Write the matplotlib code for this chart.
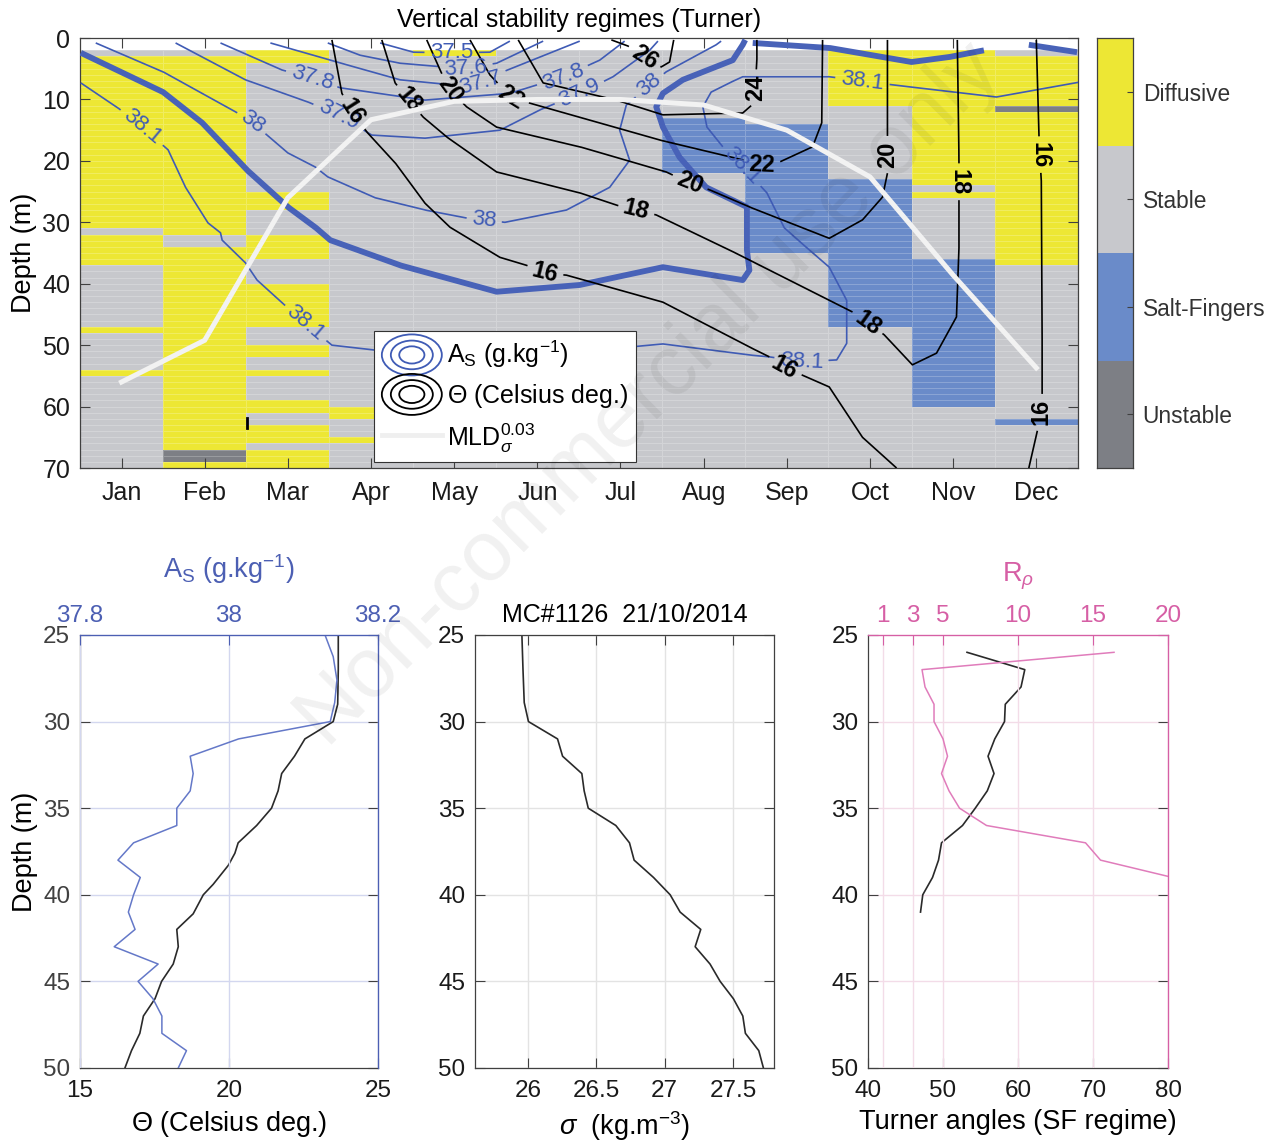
import numpy as np
import matplotlib
matplotlib.use('Agg')
import matplotlib.pyplot as plt
from matplotlib.colors import ListedColormap
from matplotlib.font_manager import FontProperties
from matplotlib.legend_handler import HandlerBase
from matplotlib.patches import Ellipse
from matplotlib.lines import Line2D

plt.rcParams['font.family'] = ['Liberation Sans', 'DejaVu Sans']
plt.rcParams['mathtext.fontset'] = 'custom'
plt.rcParams['mathtext.rm'] = 'Liberation Sans'
plt.rcParams['mathtext.it'] = 'Liberation Sans:italic'
plt.rcParams['mathtext.bf'] = 'Liberation Sans:bold'

# ---------------------------------------------------------------- data
MONTHS = ['Jan', 'Feb', 'Mar', 'Apr', 'May', 'Jun', 'Jul', 'Aug', 'Sep', 'Oct', 'Nov', 'Dec']
REGIME_NAMES = ['Diffusive', 'Stable', 'Salt-Fingers', 'Unstable']
# regime columns: (top depth of layer, regime) ; D=Diffusive S=Stable F=Salt-fingers U=Unstable
REG_JAN = [(2, 'S'), (3, 'D'), (31, 'S'), (32, 'D'), (37, 'S'), (47, 'D'), (48, 'S'), (54, 'D'), (55, 'S')]
REG_FEB = [(2, 'S'), (3, 'D'), (32, 'S'), (34, 'D'), (67, 'U'), (69, 'D')]
REG_MAR = [(2, 'D'), (4, 'S'), (25, 'D'), (28, 'S'), (32, 'D'), (36, 'S'), (40, 'D'), (47, 'S'), (50, 'D'),
           (52, 'S'), (54, 'D'), (55, 'S'), (59, 'D'), (61, 'S'), (63, 'D'), (66, 'S'), (67, 'D')]
REG_APR = [(2, 'S'), (60, 'D'), (62, 'S'), (65, 'D'), (66, 'S')]
REG_MAY = [(2, 'D'), (3, 'S')]
REG_JUN = [(2, 'S')]
REG_JUL = [(2, 'S')]
REG_AUG = [(2, 'S'), (13, 'F'), (22, 'S')]
REG_SEP = [(2, 'S'), (14, 'F'), (35, 'S')]
REG_OCT = [(2, 'D'), (11, 'S'), (23, 'F'), (47, 'S')]
REG_NOV = [(2, 'D'), (24, 'S'), (25, 'D'), (26, 'S'), (36, 'F'), (60, 'S')]
REG_DEC = [(2, 'S'), (3, 'D'), (11, 'U'), (12, 'D'), (37, 'S'), (62, 'F'), (63, 'S')]

# isohalines (A_S, g/kg): month, depth
THICK_M = [0.51, 1.50, 1.97, 2.51, 3.00, 3.33, 3.51, 4.35, 5.51, 6.51, 7.51, 8.47, 8.55, 8.52, 8.52, 8.03, 7.71, 7.51, 7.43, 7.51, 7.75, 8.35, 8.47, 8.50]
THICK_D = [2.4, 8.8, 13.8, 21.5, 27.5, 30.8, 32.9, 37.0, 41.3, 40.2, 37.3, 39.4, 37.8, 34.5, 27.5, 24.3, 19.4, 14.5, 11.2, 9.0, 6.8, 3.6, 1.1, 0.3]
THICK2_M = [8.59, 9.51, 10.50, 10.95, 11.37]
THICK2_D = [0.8, 1.6, 3.9, 3.1, 2.0]
THICK3_M = [11.91, 12.49]
THICK3_D = [1.1, 2.3]

S381_M = [0.51, 0.96, 1.25, 1.56, 1.77, 2.04, 2.19, 2.21, 2.49, 2.63, 2.93, 3.21, 3.53, 4.05, 5.55, 7.11, 7.51, 8.55, 8.79, 9.18, 9.60, 9.72, 9.72, 9.51, 9.27, 8.97, 8.76, 8.46, 8.23, 8.04, 7.99, 8.09, 8.31, 8.47, 9.51, 9.91, 10.32, 11.52, 12.51]
S381_D = [7.3, 11.4, 14.5, 18.2, 24.3, 30.1, 31.7, 32.9, 36.6, 39.4, 43.1, 46.4, 50.0, 50.8, 50.8, 50.3, 49.8, 51.6, 51.9, 52.7, 52.4, 49.7, 42.7, 37.3, 34.5, 30.9, 25.2, 20.8, 17.7, 14.5, 11.2, 8.8, 7.3, 6.3, 6.3, 7.0, 7.7, 9.6, 7.2]
S381_LAB = [(1.25, 14.5), (3.21, 46.4), (9.18, 52.7), (8.46, 20.8), (9.91, 7.0)]
S38_M = [0.69, 1.50, 2.37, 2.57, 2.75, 3.00, 3.33, 3.48, 4.05, 4.65, 5.15, 5.36, 5.61, 6.35, 6.87, 7.11, 6.99, 7.07, 7.35, 7.55, 8.15, 8.21]
S38_D = [0.8, 5.5, 12.0, 13.7, 15.8, 18.7, 21.0, 22.6, 26.0, 28.0, 29.3, 29.6, 30.0, 28.0, 24.3, 19.9, 15.0, 10.9, 7.7, 5.5, 1.1, 0.5]
S38_LAB = [(2.57, 13.7), (5.36, 29.6), (7.35, 7.7)]
S379_M = [1.65, 2.49, 3.24, 3.61, 4.01, 4.65, 5.55, 6.03, 6.51, 6.91, 7.35, 7.45]
S379_D = [0.8, 6.8, 10.4, 12.5, 15.8, 16.3, 15.0, 11.7, 9.0, 6.3, 2.0, 0.5]
S379_LAB = [(3.61, 12.5), (6.51, 9.0)]
S378_M = [2.19, 2.93, 3.29, 3.63, 4.65, 5.67, 6.31, 6.75, 7.05]
S378_D = [0.8, 5.2, 6.5, 8.1, 10.1, 9.0, 6.3, 3.6, 0.5]
S378_LAB = [(3.29, 6.5), (6.31, 6.3)]
S377_M = [2.79, 3.51, 4.35, 5.03, 5.32, 5.55, 6.51]
S377_D = [0.8, 3.6, 6.8, 7.7, 7.3, 5.7, 0.5]
S377_LAB = [(5.32, 7.3)]
S376_M = [3.48, 3.87, 4.35, 4.87, 5.14, 5.51, 6.07]
S376_D = [0.8, 2.8, 4.1, 4.7, 4.9, 4.1, 0.5]
S376_LAB = [(5.14, 4.9)]
S375_M = [4.11, 4.51, 4.97, 5.43, 5.67]
S375_D = [0.8, 2.3, 2.4, 2.3, 0.5]
S375_LAB = [(4.97, 2.4)]

# isotherms (Theta, deg C): month, depth
T16A_M = [3.53, 3.65, 3.77, 3.95, 4.29, 4.65, 4.95, 5.55, 5.87, 6.09, 6.35, 7.51, 8.55, 8.79, 8.97, 9.19, 9.51, 9.91, 10.32]
T16A_D = [0.3, 9.0, 12.0, 15.3, 20.3, 26.9, 30.8, 35.7, 37.0, 38.3, 38.6, 43.0, 50.3, 51.9, 53.6, 54.9, 56.8, 65.0, 70.0]
T16A_LAB = [(3.77, 12.0), (6.09, 38.3), (8.97, 53.6)]
T18_M = [4.13, 4.29, 4.45, 4.63, 4.91, 5.51, 6.51, 6.95, 7.19, 7.43, 8.31, 9.79, 9.97, 10.17, 10.51, 10.80, 11.04, 11.07, 11.07, 11.07, 11.07, 11.05]
T18_D = [0.3, 7.3, 10.1, 12.9, 16.1, 21.8, 25.2, 27.2, 28.0, 28.8, 34.5, 44.6, 46.4, 48.3, 53.2, 51.3, 45.4, 34.5, 25.9, 23.4, 19.4, 0.3]
T18_LAB = [(4.45, 10.1), (7.19, 28.0), (9.97, 46.4), (11.07, 23.4)]
T20_M = [4.67, 4.83, 4.95, 5.15, 5.51, 6.51, 7.55, 7.83, 8.07, 8.55, 9.51, 9.91, 10.15, 10.21, 10.21, 10.21, 10.21]
T20_D = [0.3, 5.2, 8.5, 11.2, 14.5, 17.7, 21.8, 23.6, 24.7, 27.5, 32.6, 29.6, 25.9, 22.0, 19.0, 16.1, 0.3]
T20_LAB = [(4.95, 8.5), (7.83, 23.6), (10.21, 19.0)]
T22_M = [5.19, 5.43, 5.68, 5.91, 7.47, 8.49, 8.70, 8.91, 9.31, 9.42, 9.43]
T22_D = [0.3, 6.0, 9.6, 10.6, 16.6, 19.9, 20.7, 20.2, 17.7, 13.8, 0.3]
T22_LAB = [(5.68, 9.6), (8.70, 20.7)]
T24_M = [5.77, 6.07, 6.95, 7.51, 8.47, 8.58, 8.62, 8.64, 8.64]
T24_D = [0.3, 7.3, 10.1, 12.5, 12.2, 10.9, 8.1, 3.6, 0.3]
T24_LAB = [(8.62, 8.1)]
T26_M = [6.89, 7.09, 7.29, 7.49, 7.59, 7.64]
T26_D = [0.3, 1.3, 3.1, 4.7, 3.9, 0.3]
T26_LAB = [(7.29, 3.1)]
T16B_M = [12.00, 12.03, 12.04, 12.06, 12.07, 12.07, 12.06, 12.01, 11.91]
T16B_D = [0.3, 15.0, 19.0, 23.1, 45.9, 58.1, 60.9, 64.1, 70.0]
T16B_LAB = [(12.04, 19.0), (12.06, 60.9)]
T16C_M = [2.51, 2.51]
T16C_D = [61.9, 63.5]

# mixed layer depth
MLD_M = [1, 2, 3, 4, 5, 6, 7, 8, 9, 10, 11, 12]
MLD_D = [56.0, 49.2, 26.0, 13.3, 10.3, 10.0, 10.0, 10.9, 15.0, 22.6, 38.6, 53.7]

# profile MC#1126 21/10/2014
THETA_Z = [25, 27, 29, 30, 31, 32, 33, 34, 35, 36, 37, 37.6, 38.3, 39.4, 40, 41.1, 42, 43, 44, 45, 46, 47, 48, 49, 50]
THETA = [23.67, 23.67, 23.65, 23.5, 22.55, 22.2, 21.77, 21.65, 21.43, 20.93, 20.31, 20.2, 19.98, 19.47, 19.14, 18.8,
         18.25, 18.3, 18.13, 17.74, 17.52, 17.13, 17.01, 16.73, 16.51]
SAL_Z = [25, 26.25, 27.6, 28.9, 30, 31, 32, 33, 34, 35, 36, 37, 38, 39, 40, 41, 42, 43, 44, 45, 46, 47, 48, 49, 50]
SAL = [38.129, 38.140, 38.145, 38.142, 38.136, 38.013, 37.948, 37.952, 37.948, 37.930, 37.930, 37.872, 37.851, 37.881,
       37.872, 37.865, 37.874, 37.846, 37.905, 37.878, 37.898, 37.910, 37.910, 37.943, 37.932]
SIG_Z = [25, 27, 28.9, 30, 31, 32, 33, 34, 35, 36, 37, 38, 39, 40, 41, 42, 43, 44, 45, 46, 47, 48, 49, 50]
SIGMA = [25.954, 25.962, 25.971, 26.002, 26.215, 26.252, 26.393, 26.41, 26.44, 26.642, 26.742, 26.776, 26.918, 27.04,
         27.113, 27.264, 27.223, 27.332, 27.406, 27.503, 27.572, 27.591, 27.689, 27.723]
TU_Z = [26, 27, 28, 29, 30, 31, 32, 33, 34, 35, 36, 37, 38, 39, 40, 41]
TURNER = [53.2, 60.9, 60.4, 58.3, 58.2, 56.9, 56.0, 56.8, 55.9, 54.3, 52.6, 49.8, 49.4, 48.6, 47.3, 47.0]
RR_Z = [26, 27, 28, 29, 30, 31, 32, 33, 34, 35, 36, 37, 38, 39]
RRHO = [16.4, 3.6, 3.8, 4.4, 4.4, 5.0, 5.3, 4.9, 5.4, 6.1, 7.9, 14.5, 15.5, 20.3]

# ---------------------------------------------------------------- style
FS_TICK = 18
FS_TITLE = 18
FS_LAB = 19.5
FS_CB = 16.4
FS_CL = 16
FS_CLB = 17
FS_LEG = 18
FS_BT = 17.5
C_YEL = '#EDE734'
C_STA = '#C7C8CC'
C_SF = '#6A8BC9'
C_UNS = '#7D7F85'
C_SAL = '#3F5BB5'
C_THICK = '#4862B8'
C_AX = '#404040'
C_PINK = '#D65FA5'
C_PINKL = '#E07CBB'
C_BLUEAX = '#4C5FB3'

fig = plt.figure(figsize=(12.75, 11.46), dpi=100)
renderer = fig.canvas.get_renderer()


def style_box(a, color=C_AX, size=FS_TICK):
    for s in a.spines.values():
        s.set_color(color)
        s.set_linewidth(0.9)
    a.tick_params(direction='in', length=7, width=0.8, colors=color, labelcolor='#1a1a1a',
                  labelsize=size, top=True, right=True)


# ---------------------------------------------------------------- top panel
ax = fig.add_axes([0.0627, 0.5916, 0.7827, 0.3752])
ax.set_xlim(0.5, 12.5)
ax.set_ylim(70, 0)

codes = {'D': 0, 'S': 1, 'F': 2, 'U': 3}
zedges = np.arange(2, 71)
medges = np.arange(0.5, 13.0, 1.0)
grid = np.zeros((len(zedges) - 1, 12))
for j, col in enumerate([REG_JAN, REG_FEB, REG_MAR, REG_APR, REG_MAY, REG_JUN, REG_JUL, REG_AUG,
                         REG_SEP, REG_OCT, REG_NOV, REG_DEC]):
    for i, (z0, c) in enumerate(col):
        z1 = col[i + 1][0] if i + 1 < len(col) else 70
        grid[z0 - 2:z1 - 2, j] = codes[c]
cmap = ListedColormap([C_YEL, C_STA, C_SF, C_UNS])
ax.pcolormesh(medges, zedges, grid, cmap=cmap, vmin=-0.5, vmax=3.5,
              edgecolors=(1, 1, 1, 0.22), linewidth=0.6)


def draw_iso(a, xs, ys, color, lw, labels=(), text='', rots=None, tcolor=None, weight='normal',
             size=FS_CL, zorder=3):
    P = a.transData.transform(np.column_stack([xs, ys]))
    dense = [P[0]]
    for p0, p1 in zip(P[:-1], P[1:]):
        n = max(int(np.hypot(*(p1 - p0))), 1)
        t = np.linspace(0, 1, n + 1)[1:]
        dense.extend(p0 + np.outer(t, p1 - p0))
    D = np.array(dense)
    s = np.concatenate([[0], np.cumsum(np.hypot(*np.diff(D, axis=0).T))])
    keep = np.ones(len(D), bool)
    fp = FontProperties(family=['Liberation Sans', 'DejaVu Sans'], size=size, weight=weight)
    w = renderer.get_text_width_height_descent(text, fp, ismath=False)[0] if text else 0
    inv = a.transData.inverted()
    for k, (lx, ly) in enumerate(labels):
        p = a.transData.transform((lx, ly))
        i = int(np.argmin(np.hypot(*(D - p).T)))
        half = w / 2 + 5
        keep &= np.abs(s - s[i]) > half
        j1 = max(np.searchsorted(s, s[i] - half), 0)
        j2 = min(np.searchsorted(s, s[i] + half), len(D) - 1)
        dv = D[j2] - D[j1]
        ang = np.degrees(np.arctan2(dv[1], dv[0]))
        while ang > 90:
            ang -= 180
        while ang <= -90:
            ang += 180
        if rots is not None and rots[k] is not None:
            ang = rots[k]
        pos = inv.transform(D[i])
        a.text(pos[0], pos[1], text, rotation=ang, rotation_mode='anchor', ha='center', va='center',
               fontsize=size, color=tcolor or color, fontweight=weight, zorder=zorder + 1)
    DD = inv.transform(D)
    DD[~keep] = np.nan
    a.plot(DD[:, 0], DD[:, 1], color=color, lw=lw, zorder=zorder, solid_capstyle='butt')


# salinity
draw_iso(ax, THICK_M, THICK_D, C_THICK, 4.2)
draw_iso(ax, THICK2_M, THICK2_D, C_THICK, 4.2)
draw_iso(ax, THICK3_M, THICK3_D, C_THICK, 4.2)
for m_, d_, lab, txt in [(S381_M, S381_D, S381_LAB, '38.1'), (S38_M, S38_D, S38_LAB, '38'),
                         (S379_M, S379_D, S379_LAB, '37.9'), (S378_M, S378_D, S378_LAB, '37.8'),
                         (S377_M, S377_D, S377_LAB, '37.7'), (S376_M, S376_D, S376_LAB, '37.6'),
                         (S375_M, S375_D, S375_LAB, '37.5')]:
    draw_iso(ax, m_, d_, C_SAL, 1.2, lab, txt)

# temperature
kw = dict(weight='bold', size=FS_CLB)
draw_iso(ax, T16A_M, T16A_D, 'k', 1.2, T16A_LAB, '16', **kw)
draw_iso(ax, T18_M, T18_D, 'k', 1.2, T18_LAB, '18', rots=[None, None, None, -90], **kw)
draw_iso(ax, T20_M, T20_D, 'k', 1.2, T20_LAB, '20', rots=[None, None, 90], **kw)
draw_iso(ax, T22_M, T22_D, 'k', 1.2, T22_LAB, '22', **kw)
draw_iso(ax, T24_M, T24_D, 'k', 1.2, T24_LAB, '24', rots=[90], **kw)
draw_iso(ax, T26_M, T26_D, 'k', 1.2, T26_LAB, '26', **kw)
draw_iso(ax, T16B_M, T16B_D, 'k', 1.2, T16B_LAB, '16', rots=[-90, 90], **kw)
ax.plot(T16C_M, T16C_D, color='k', lw=2.0, zorder=3)

# mixed layer depth
ax.plot(MLD_M, MLD_D, color='#F2F2F2', lw=3.6, zorder=5, solid_joinstyle='miter')

style_box(ax)
ax.set_xticks(range(1, 13))
ax.set_xticklabels(MONTHS)
ax.set_yticks(range(0, 71, 10))
ax.set_ylabel('Depth (m)', fontsize=FS_LAB, labelpad=4)
ax.set_title('Vertical stability regimes (Turner)', fontsize=FS_TITLE, pad=8)
ax.tick_params(axis='x', pad=9)
ax.tick_params(axis='y', pad=7)


class RingsHandler(HandlerBase):
    def __init__(self, color):
        super().__init__()
        self.color = color

    def create_artists(self, legend, orig_handle, xdescent, ydescent, width, height, fontsize, trans):
        cx = 0.5 * width - xdescent
        cy = 0.5 * height - ydescent
        arts = []
        for f in (1.0, 0.7, 0.42):
            arts.append(Ellipse((cx, cy), width * f, height * 1.6 * f, fill=False,
                                edgecolor=self.color, lw=1.3, transform=trans))
        return arts


h1 = Line2D([], [], color=C_SAL)
h2 = Line2D([], [], color='k')
h3 = Line2D([], [], color='#EFEFEF', lw=3.5)
leg = ax.legend([h1, h2, h3],
                [r'A$_\mathrm{S}$ (g.kg$^\mathrm{-1}$)', r'$\Theta$ (Celsius deg.)',
                 r'MLD$^\mathrm{0.03}_{\sigma}$'],
                handler_map={h1: RingsHandler(C_SAL), h2: RingsHandler('k')},
                loc='lower left', bbox_to_anchor=(0.295, 0.014), fontsize=FS_LEG, frameon=True,
                fancybox=False, framealpha=1, edgecolor='#333333', handlelength=2.4,
                handleheight=1.2, handletextpad=0.2, labelspacing=0.45, borderpad=0.3, borderaxespad=0)
leg.get_frame().set_linewidth(0.8)
leg.set_zorder(10)

# colorbar
cax = fig.add_axes([0.8604, 0.5916, 0.0282, 0.3752])
cax.pcolormesh([0, 1], np.arange(5), np.array([[3], [2], [1], [0]]), cmap=cmap, vmin=-0.5, vmax=3.5)
cax.set_xlim(0, 1)
cax.set_ylim(0, 4)
cax.set_xticks([])
cax.set_yticks([0.5, 1.5, 2.5, 3.5])
cax.set_yticklabels(REGIME_NAMES[::-1])
cax.yaxis.tick_right()
for s in cax.spines.values():
    s.set_color(C_AX)
    s.set_linewidth(0.9)
cax.tick_params(axis='y', direction='in', length=4, colors=C_AX, labelcolor='#333333', labelsize=FS_CB, pad=7)

# ---------------------------------------------------------------- bottom panels
BOT = 0.0681
H = 0.3778
axl = fig.add_axes([0.0627, BOT, 0.2337, H])
axl.set_xlim(15, 25)
axl.set_ylim(50, 25)
axl2 = axl.twiny()
axl2.set_xlim(37.8, 38.2)
axl2.set_xticks([37.8, 38.0, 38.2])
axl2.set_xticklabels(['37.8', '38', '38.2'])
axl2.grid(True, color='#D3D7EF', lw=1.0)
axl.set_axisbelow(True)
axl2.yaxis.grid(False)
for yv in [30, 35, 40, 45]:
    axl.axhline(yv, color='#D3D7EF', lw=1.0, zorder=0)
axl2.plot(SAL, SAL_Z, color='#6478C8', lw=1.1)
axl.plot(THETA, THETA_Z, color='#2a2a2a', lw=1.2, zorder=4)
style_box(axl, size=FS_BT)
axl.tick_params(top=False)
axl.set_xticks([15, 20, 25])
axl.set_yticks([25, 30, 35, 40, 45, 50])
axl.set_ylabel('Depth (m)', fontsize=FS_LAB, labelpad=4)
axl.set_xlabel(r'$\Theta$ (Celsius deg.)', fontsize=FS_LAB, labelpad=5)
for s in ['top', 'right']:
    axl.spines[s].set_color(C_BLUEAX)
    axl2.spines[s].set_color(C_BLUEAX)
axl2.spines['left'].set_visible(False)
axl2.spines['bottom'].set_visible(False)
axl2.tick_params(axis='x', direction='in', length=7, colors=C_BLUEAX, labelcolor=C_BLUEAX,
                 labelsize=FS_BT, pad=6)
axl.tick_params(axis='y', which='both', right=True, colors=C_AX, pad=7)
axl2.set_xlabel(r'A$_\mathrm{S}$ (g.kg$^\mathrm{-1}$)', color=C_BLUEAX, fontsize=FS_LAB, labelpad=19)
axl.tick_params(axis='x', pad=9)

axm = fig.add_axes([0.3725, BOT, 0.2345, H])
axm.set_xlim(25.61, 27.80)
axm.set_ylim(50, 25)
axm.grid(True, color='#E3E3E3', lw=1.0)
axm.set_axisbelow(True)
axm.plot(SIGMA, SIG_Z, color='#2a2a2a', lw=1.2)
style_box(axm, size=FS_BT)
axm.set_xticks([26, 26.5, 27, 27.5])
axm.set_xticklabels(['26', '26.5', '27', '27.5'])
axm.set_yticks([25, 30, 35, 40, 45, 50])
axm.set_xlabel(r'$\sigma$  (kg.m$^\mathrm{-3}$)', fontsize=FS_LAB, labelpad=5)
axm.set_title('MC#1126  21/10/2014', fontsize=FS_TITLE, pad=9)
axm.tick_params(axis='x', pad=9)
axm.tick_params(axis='y', pad=7)

axr = fig.add_axes([0.6808, BOT, 0.2353, H])
axr.set_xlim(40, 80)
axr.set_ylim(50, 25)
axr2 = axr.twiny()
axr2.set_xlim(0, 20)
axr2.set_xticks([1, 3, 5, 10, 15, 20])
axr2.grid(True, color='#F3DCE8', lw=1.0)
for yv in [30, 35, 40, 45]:
    axr.axhline(yv, color='#F3DCE8', lw=1.0, zorder=0)
axr2.plot(RRHO, RR_Z, color=C_PINKL, lw=1.1)
axr.plot(TURNER, TU_Z, color='#2a2a2a', lw=1.2, zorder=4)
style_box(axr, size=FS_BT)
axr.tick_params(top=False)
axr.set_xticks([40, 50, 60, 70, 80])
axr.set_yticks([25, 30, 35, 40, 45, 50])
axr.set_xlabel('Turner angles (SF regime)', fontsize=FS_LAB, labelpad=5)
for s in ['top', 'right']:
    axr.spines[s].set_color(C_PINK)
    axr2.spines[s].set_color(C_PINK)
axr2.spines['left'].set_visible(False)
axr2.spines['bottom'].set_visible(False)
axr2.tick_params(axis='x', direction='in', length=7, colors=C_PINK, labelcolor=C_PINK, labelsize=FS_BT, pad=6)
axr.tick_params(axis='y', which='both', right=True, pad=7)
axr2.set_xlabel(r'R$_{\rho}$', color=C_PINK, fontsize=FS_LAB, labelpad=17)
axr.tick_params(axis='x', pad=9)

# watermark
fig.text(0.51, 0.655, 'Non-commercial use only', rotation=45, fontsize=61, color='k', alpha=0.06,
         ha='center', va='center', zorder=20)

fig.savefig('out.png', dpi=100)
